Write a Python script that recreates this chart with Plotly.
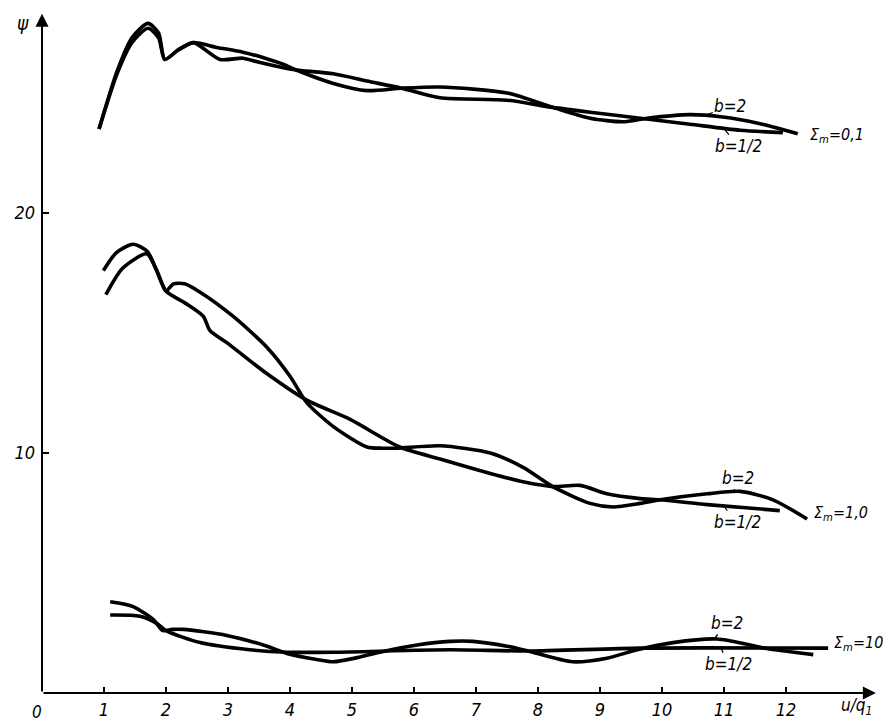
import plotly.graph_objects as go

# ---------------- data ----------------
# Sigma_m = 0.1
top_b2_u   = [0.92, 1.21, 1.45, 1.71, 1.88, 1.98, 2.2, 2.44, 2.82, 3.24, 3.6, 3.89, 4.1, 4.7, 5.24, 5.8, 6.42, 7.5, 8.24, 8.84, 9.37, 9.76, 10.45, 10.98, 11.53, 12.19]
top_b2_psi = [23.5, 25.9, 27.3, 27.9, 27.5, 26.4, 26.8, 27.1, 26.9, 26.7, 26.45, 26.2, 25.96, 25.4, 25.1, 25.2, 25.25, 25.0, 24.4, 23.95, 23.8, 23.95, 24.1, 24.0, 23.75, 23.3]
top_bh_u   = [0.92, 1.21, 1.45, 1.71, 1.88, 1.98, 2.2, 2.44, 2.87, 3.24, 3.47, 3.89, 4.1, 4.7, 5.24, 5.8, 6.42, 7.5, 8.24, 8.84, 9.65, 10.45, 11.26, 11.95]
top_bh_psi = [23.5, 25.8, 27.1, 27.7, 27.3, 26.4, 26.8, 27.1, 26.4, 26.45, 26.3, 26.05, 25.96, 25.8, 25.5, 25.2, 24.8, 24.7, 24.4, 24.2, 23.95, 23.7, 23.45, 23.35]

# Sigma_m = 1.0
mid_b2_u   = [0.99, 1.2, 1.47, 1.7, 1.85, 2.0, 2.12, 2.3, 2.55, 3.08, 3.63, 4.0, 4.27, 4.7, 5.24, 5.5, 5.73, 6.42, 7.23, 7.76, 8.24, 8.84, 9.21, 9.65, 9.97, 10.73, 11.26, 11.79, 12.34]
mid_b2_psi = [17.6, 18.35, 18.7, 18.4, 17.6, 16.75, 17.05, 17.05, 16.7, 15.7, 14.4, 13.2, 12.1, 11.1, 10.25, 10.2, 10.2, 10.3, 10.0, 9.4, 8.6, 7.9, 7.75, 7.9, 8.05, 8.3, 8.4, 8.05, 7.25]
mid_bh_u   = [1.03, 1.3, 1.69, 1.85, 2.0, 2.34, 2.6, 2.71, 2.98, 3.63, 4.27, 4.97, 5.77, 6.42, 7.23, 7.76, 8.24, 8.68, 9.11, 9.65, 9.97, 10.73, 11.9]
mid_bh_psi = [16.6, 17.7, 18.3, 17.6, 16.75, 16.2, 15.7, 15.1, 14.6, 13.3, 12.2, 11.4, 10.25, 9.75, 9.15, 8.8, 8.6, 8.65, 8.3, 8.1, 8.05, 7.85, 7.6]

# Sigma_m = 10
bot_b2_u   = [1.1, 1.47, 1.8, 1.95, 2.1, 2.28, 2.98, 3.63, 3.95, 4.43, 4.7, 5.13, 5.45, 6.05, 6.58, 6.95, 7.5, 7.84, 8.56, 9.11, 9.6, 10.18, 10.89, 11.42, 11.69, 12.44]
bot_b2_psi = [3.8, 3.6, 3.05, 2.6, 2.65, 2.65, 2.4, 1.95, 1.65, 1.4, 1.3, 1.5, 1.7, 2.0, 2.15, 2.15, 1.95, 1.75, 1.3, 1.45, 1.8, 2.1, 2.25, 2.0, 1.85, 1.6]
bot_bh_u   = [1.1, 1.58, 1.85, 2.0, 2.55, 3.35, 3.95, 4.7, 6.58, 7.84, 9.65, 12.68]
bot_bh_psi = [3.25, 3.2, 2.9, 2.6, 2.1, 1.8, 1.7, 1.7, 1.8, 1.75, 1.87, 1.87]

x_ticks = [1, 2, 3, 4, 5, 6, 7, 8, 9, 10, 11, 12]
y_ticks = [10, 20]

# ---------------- figure ----------------
FONT = "Liberation Sans Narrow, DejaVu Sans Condensed, Liberation Sans, sans-serif"
OFF = 8                      # page body margin of the html page
W, H = 891 - OFF, 721 - OFF
ML, MB = 42 - OFF, 28
PW, PH = W - ML, H - MB      # plot area size in px
XMAX = PW / 62.0
YMAX = PH / 24.0


def px(xp):                  # page pixel -> paper x
    return (xp - 42) / PW


def py(yp):                  # page pixel -> paper y
    return (693 - yp) / PH


fig = go.Figure()
series = [
    (top_b2_u, top_b2_psi), (top_bh_u, top_bh_psi),
    (mid_b2_u, mid_b2_psi), (mid_bh_u, mid_bh_psi),
    (bot_b2_u, bot_b2_psi), (bot_bh_u, bot_bh_psi),
]
for u, p in series:
    fig.add_trace(go.Scatter(x=u, y=p, mode="lines",
                             line=dict(color="black", width=3.6, shape="spline", smoothing=0.7),
                             hoverinfo="skip", showlegend=False))

lab_font = dict(family=FONT, size=17, color="black", style="italic")
sig_font = dict(family=FONT, size=16, color="black", style="italic")
ann = []
# axis arrows
ann.append(dict(x=13.45, y=0, ax=0, ay=0, xref="x", yref="y", axref="x", ayref="y",
                text="", showarrow=True, arrowhead=2, arrowsize=1.3, arrowwidth=2, arrowcolor="black"))
ann.append(dict(x=0, y=28.3, ax=0, ay=0, xref="x", yref="y", axref="x", ayref="y",
                text="", showarrow=True, arrowhead=2, arrowsize=1.3, arrowwidth=2, arrowcolor="black"))

# b labels with pointer lines: (u, psi on curve, dx, dy, text)
blabels = [
    (10.73, 24.1, 23, -9, "b=2"), (11.02, 23.45, 13, 16, "b=1/2"),
    (11.15, 8.35, 5, -15, "b=2"), (11.02, 7.7, 12, 14, "b=1/2"),
    (10.84, 2.25, 13, -16, "b=2"), (10.95, 1.87, 8, 16, "b=1/2"),
]
for u, p, dx, dy, t in blabels:
    ann.append(dict(x=u, y=p, xref="x", yref="y", text=t, showarrow=True,
                    ax=dx, ay=dy, arrowhead=0, arrowwidth=1.2, arrowcolor="black",
                    standoff=0, font=lab_font))

# Sigma labels
for u, p, t in [(12.35, 23.25, "Σ<sub>m</sub>=0,1"), (12.42, 7.5, "Σ<sub>m</sub>=1,0"),
                (12.74, 2.08, "Σ<sub>m</sub>=10")]:
    ann.append(dict(x=u, y=p, xref="x", yref="y", text=t, showarrow=False,
                    xanchor="left", yanchor="middle", font=sig_font))

# axis titles and origin label
ann.append(dict(x=px(856), y=py(706), xref="paper", yref="paper", text="u/q<sub>1</sub>",
                showarrow=False, xanchor="center", yanchor="middle", font=lab_font))
ann.append(dict(x=px(23), y=py(23), xref="paper", yref="paper", text="ψ",
                showarrow=False, xanchor="center", yanchor="middle",
                font=dict(family=FONT, size=19, color="black", style="italic")))
ann.append(dict(x=px(37), y=py(712), xref="paper", yref="paper", text="0",
                showarrow=False, xanchor="center", yanchor="middle", font=lab_font))

tick_font = dict(family=FONT, size=18, color="black", style="italic")
fig.update_layout(
    width=W, height=H,
    margin=dict(l=ML, r=0, t=0, b=MB, pad=0),
    paper_bgcolor="white", plot_bgcolor="white",
    xaxis=dict(range=[0, XMAX], showgrid=False, zeroline=False, showline=False,
               tickmode="array", tickvals=x_ticks, ticktext=[str(v) for v in x_ticks],
               ticks="inside", ticklen=6, tickwidth=1.5, tickcolor="black",
               tickfont=tick_font, ticklabelstandoff=4),
    yaxis=dict(range=[0, YMAX], showgrid=False, zeroline=False, showline=False,
               tickmode="array", tickvals=y_ticks, ticktext=[str(v) for v in y_ticks],
               ticks="inside", ticklen=7, tickwidth=1.5, tickcolor="black",
               tickfont=tick_font, ticklabelstandoff=6),
    annotations=ann,
)

fig.write_html("out.html")
